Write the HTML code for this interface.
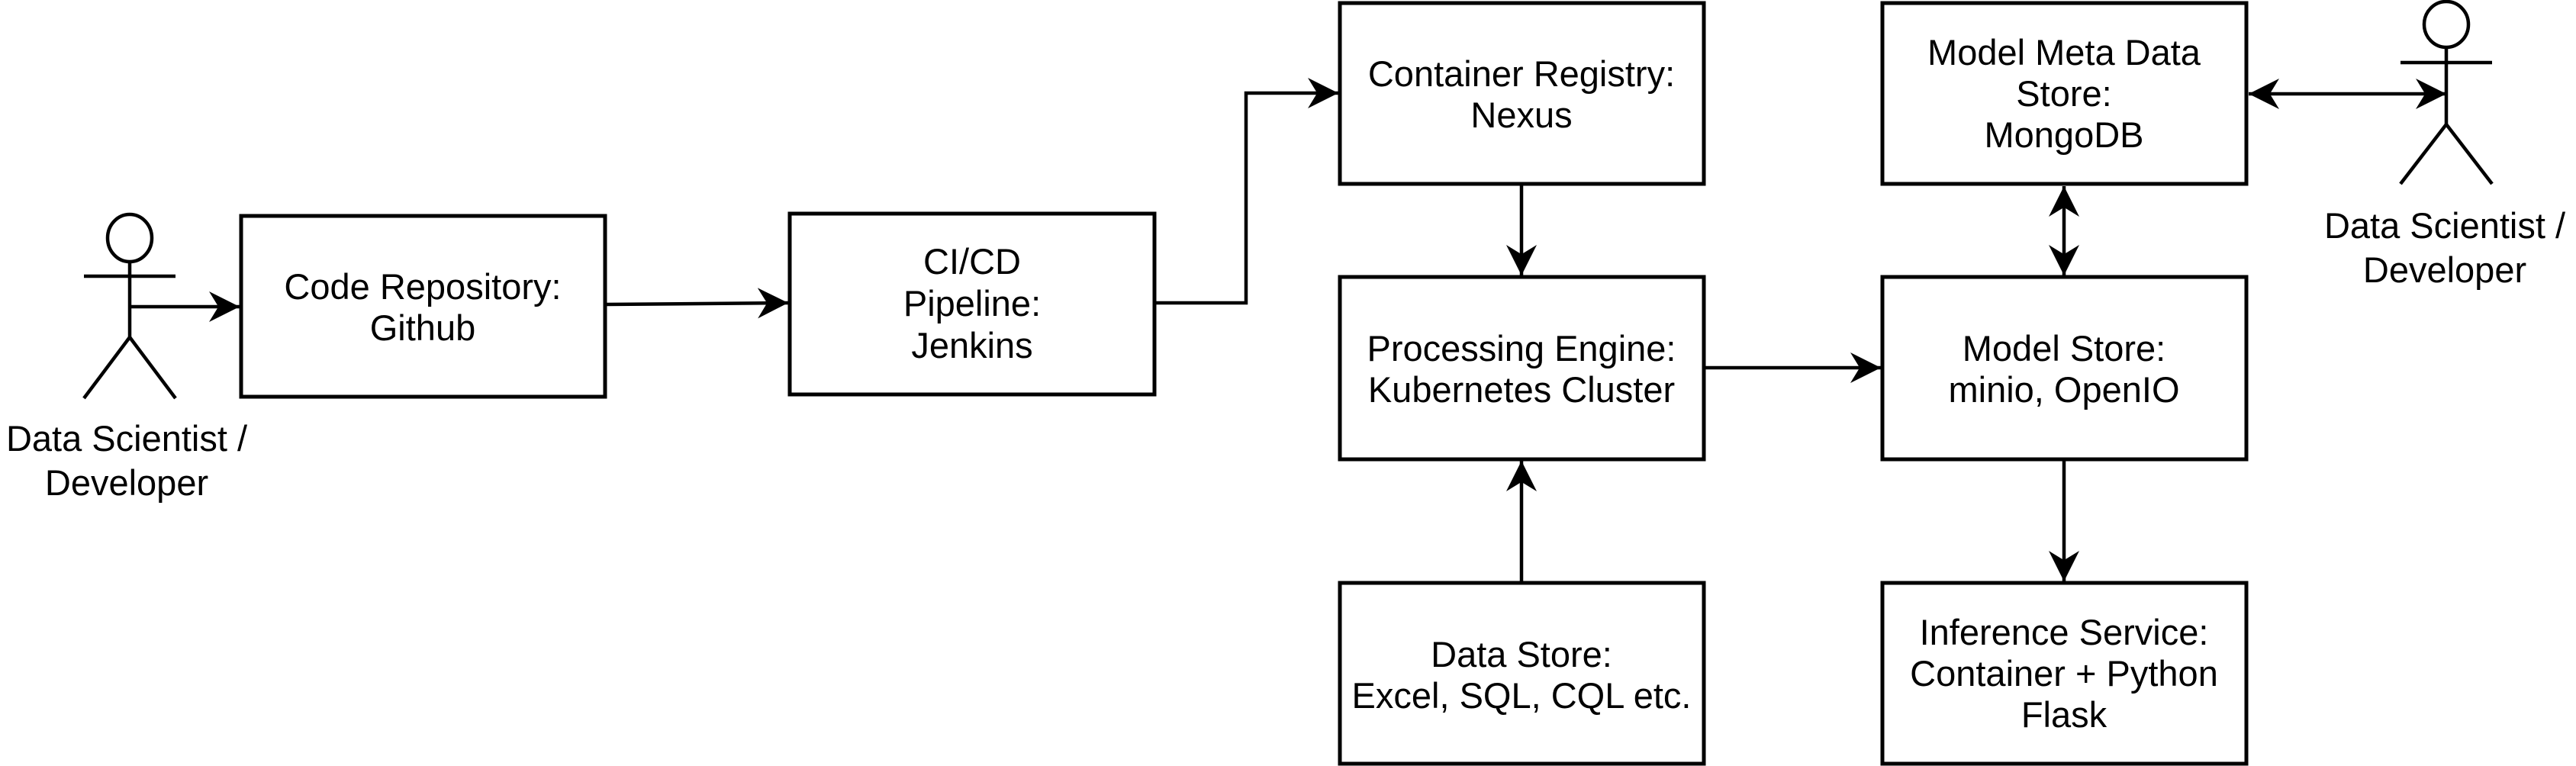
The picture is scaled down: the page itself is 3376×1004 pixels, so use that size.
<!DOCTYPE html>
<html><head><meta charset="utf-8"><style>
html,body{margin:0;padding:0;background:#fff;}
svg{display:block;}
text{font-family:"Liberation Sans",Arial,sans-serif;font-size:47px;fill:#000;text-anchor:middle;}
</style></head><body>
<svg width="3376" height="1004" viewBox="0 0 3376 1004" xmlns="http://www.w3.org/2000/svg">
<defs>
<marker id="a" markerUnits="userSpaceOnUse" markerWidth="40" markerHeight="40" viewBox="0 0 36 36" refX="36" refY="18" orient="auto-start-reverse">
<path d="M0,0 L36,18 L0,36 L11,18 Z" fill="#000"/>
</marker>
</defs>
<g fill="#fff" stroke="#000" stroke-width="5">
<rect x="316" y="283" width="477" height="237"/>
<rect x="1035" y="280" width="478" height="237"/>
<rect x="1756" y="4" width="477" height="237"/>
<rect x="1756" y="363" width="477" height="239"/>
<rect x="1756" y="764" width="477" height="237"/>
<rect x="2467" y="4" width="477" height="237"/>
<rect x="2467" y="363" width="477" height="239"/>
<rect x="2467" y="764" width="477" height="237"/>
</g>
<g fill="none" stroke="#000" stroke-width="4.5">
<ellipse cx="170" cy="312" rx="29" ry="31"/>
<line x1="170" y1="343" x2="170" y2="442"/>
<line x1="110" y1="362" x2="230" y2="362"/>
<line x1="170" y1="442" x2="110" y2="522"/>
<line x1="170" y1="442" x2="230" y2="522"/>
<ellipse cx="3206" cy="32" rx="29" ry="30"/>
<line x1="3206" y1="62" x2="3206" y2="163"/>
<line x1="3146" y1="82" x2="3266" y2="82"/>
<line x1="3206" y1="163" x2="3146" y2="241"/>
<line x1="3206" y1="163" x2="3266" y2="241"/>
<line x1="170" y1="402" x2="314" y2="402" marker-end="url(#a)"/>
<line x1="794" y1="399" x2="1033" y2="397" marker-end="url(#a)"/>
<polyline points="1515,397 1633,397 1633,122 1754,122" marker-end="url(#a)"/>
<line x1="1994" y1="242" x2="1994" y2="361" marker-end="url(#a)"/>
<line x1="1994" y1="762" x2="1994" y2="604" marker-end="url(#a)"/>
<line x1="2234" y1="482" x2="2465" y2="482" marker-end="url(#a)"/>
<line x1="2705" y1="244" x2="2705" y2="361" marker-start="url(#a)" marker-end="url(#a)"/>
<line x1="2705" y1="604" x2="2705" y2="762" marker-end="url(#a)"/>
<line x1="2947" y1="123" x2="3206" y2="123" marker-start="url(#a)" marker-end="url(#a)"/>
</g>
<text x="554" y="392">Code Repository:</text>
<text x="554" y="446">Github</text>
<text x="1274" y="359">CI/CD</text>
<text x="1274" y="414">Pipeline:</text>
<text x="1274" y="469">Jenkins</text>
<text x="1994" y="113">Container Registry:</text>
<text x="1994" y="167">Nexus</text>
<text x="1994" y="473">Processing Engine:</text>
<text x="1994" y="527">Kubernetes Cluster</text>
<text x="1994" y="874">Data Store:</text>
<text x="1994" y="928">Excel, SQL, CQL etc.</text>
<text x="2705" y="85">Model Meta Data</text>
<text x="2705" y="139">Store:</text>
<text x="2705" y="193">MongoDB</text>
<text x="2705" y="473">Model Store:</text>
<text x="2705" y="527">minio, OpenIO</text>
<text x="2705" y="845">Inference Service:</text>
<text x="2705" y="899">Container + Python</text>
<text x="2705" y="953">Flask</text>
<text x="166" y="591">Data Scientist /</text>
<text x="166" y="649">Developer</text>
<text x="3204" y="312">Data Scientist /</text>
<text x="3204" y="370">Developer</text>
</svg>
</body></html>
